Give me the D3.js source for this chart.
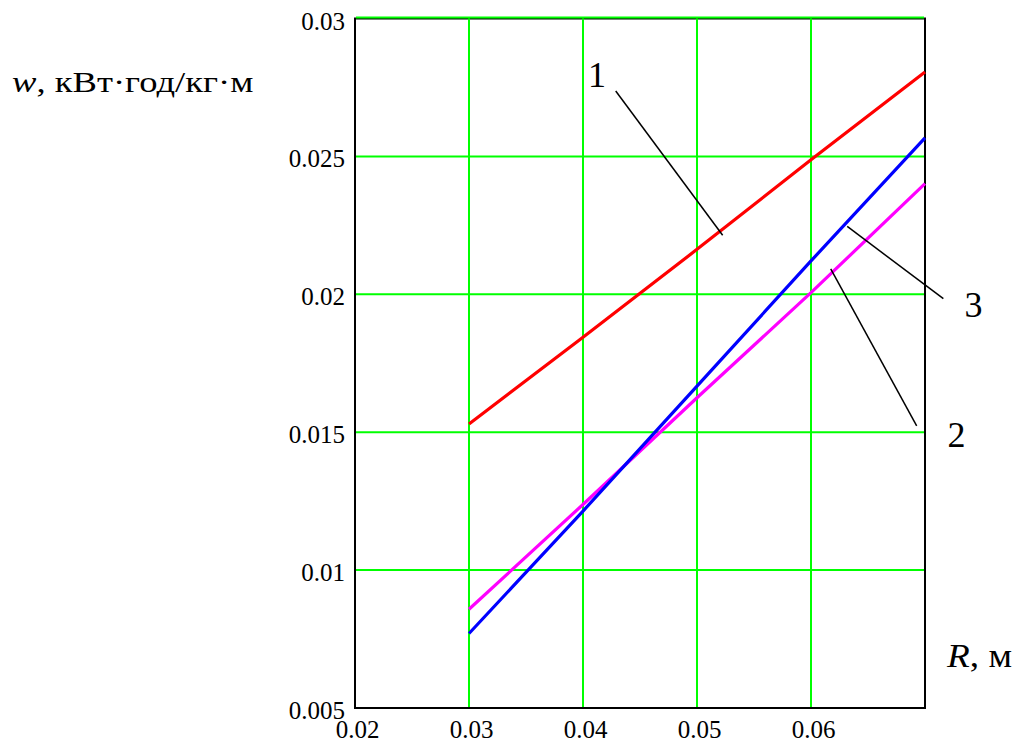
<!DOCTYPE html>
<html>
<head>
<meta charset="utf-8">
<script src="https://cdn.jsdelivr.net/npm/d3@7"></script>
<style>
  body { margin: 0; background: #fff; }
  svg text { font-family: "Liberation Serif", "Times New Roman", serif !important; fill: #000; }
</style>
</head>
<body>
<svg id="chart" width="1016" height="743"></svg>
<script>
// R, m
const radius = [0.03, 0.04, 0.05, 0.06, 0.07];
// w, kWh/kg·m
const curve1 = [0.0153, 0.01844, 0.02163, 0.02488, 0.02806];
const curve2 = [0.00858, 0.01238, 0.01625, 0.02006, 0.02401];
const curve3 = [0.0077, 0.01214, 0.01667, 0.02121, 0.02567];

const xTicks = [0.02, 0.03, 0.04, 0.05, 0.06];
const xTickLabels = ["0.02", "0.03", "0.04", "0.05", "0.06"];
const yTicks = [0.005, 0.01, 0.015, 0.02, 0.025, 0.03];
const yTickLabels = ["0.005", "0.01", "0.015", "0.02", "0.025", "0.03"];

// leader lines and numbers, in data units
const labelNames = ["1", "2", "3"];
const labelPos = [[0.04123, 0.02751], [0.07276, 0.01447], [0.07425, 0.01918]];
const leaderFrom = [[0.04287, 0.02737], [0.06927, 0.01523], [0.07161, 0.01984]];
const leaderTo = [[0.05225, 0.02214], [0.06173, 0.02092], [0.06318, 0.02246]];

const svg = d3.select("#chart");

const x = d3.scaleLinear().domain([0.02, 0.07]).range([355, 925]);
const y = d3.scaleLinear().domain([0.005, 0.03]).range([708, 18.5]);

// frame
svg.append("rect")
  .attr("x", x(0.02))
  .attr("y", y(0.03))
  .attr("width", x(0.07) - x(0.02))
  .attr("height", y(0.005) - y(0.03))
  .attr("fill", "none")
  .attr("stroke", "#000")
  .attr("stroke-width", 2);

// grid
const grid = svg.append("g").attr("stroke", "#00ff00").attr("stroke-width", 2);
grid.selectAll(".vg")
  .data(xTicks.slice(1))
  .join("line")
  .attr("x1", d => x(d)).attr("x2", d => x(d))
  .attr("y1", y(0.005) - 1).attr("y2", y(0.03));
grid.selectAll(".hg")
  .data(yTicks.slice(1))
  .join("line")
  .attr("x1", x(0.02) + 1).attr("x2", x(0.07) - 1)
  .attr("y1", d => y(d) - (d === 0.03 ? 1 : 0))
  .attr("y2", d => y(d) - (d === 0.03 ? 1 : 0));

// axes
const xAxis = d3.axisBottom(x)
  .tickValues(xTicks)
  .tickFormat((d, i) => xTickLabels[i])
  .tickSize(0)
  .tickPadding(12);
const gx = svg.append("g")
  .attr("transform", `translate(2,${y(0.005)})`)
  .call(xAxis);
gx.select(".domain").remove();
gx.selectAll("text").attr("font-size", 25);

const yAxis = d3.axisLeft(y)
  .tickValues(yTicks)
  .tickFormat((d, i) => yTickLabels[i])
  .tickSize(0)
  .tickPadding(10);
const gy = svg.append("g")
  .attr("transform", `translate(${x(0.02)},0)`)
  .call(yAxis);
gy.select(".domain").remove();
gy.selectAll("text").attr("font-size", 25).attr("dy", "0.42em");

// curves
const line = d3.line().x(d => x(d[0])).y(d => y(d[1]));
const series = [
  { values: curve1, color: "#ff0000" },
  { values: curve2, color: "#ff00ff" },
  { values: curve3, color: "#0000ff" }
];
svg.selectAll(".curve")
  .data(series)
  .join("path")
  .attr("class", "curve")
  .attr("d", s => line(radius.map((r, i) => [r, s.values[i]])))
  .attr("fill", "none")
  .attr("stroke", s => s.color)
  .attr("stroke-width", 3.2);

// leaders
svg.selectAll(".leader")
  .data(leaderFrom)
  .join("line")
  .attr("class", "leader")
  .attr("x1", d => x(d[0])).attr("y1", d => y(d[1]))
  .attr("x2", (d, i) => x(leaderTo[i][0])).attr("y2", (d, i) => y(leaderTo[i][1]))
  .attr("stroke", "#000")
  .attr("stroke-width", 1.5);

svg.selectAll(".num")
  .data(labelNames)
  .join("text")
  .attr("class", "num")
  .attr("x", (d, i) => x(labelPos[i][0]))
  .attr("y", (d, i) => y(labelPos[i][1]))
  .attr("text-anchor", "middle")
  .attr("font-size", 36)
  .text(d => d);

// axis titles (reference text is stretched horizontally)
const yTitle = svg.append("text")
  .attr("transform", "translate(12,92) scale(1.22,1)")
  .attr("font-size", 30);
yTitle.append("tspan").attr("font-style", "italic").text("w");
yTitle.append("tspan").text(", кВт·год/кг·м");

const xTitle = svg.append("text")
  .attr("transform", "translate(947,667) scale(1.13,1)")
  .attr("font-size", 33);
xTitle.append("tspan").attr("font-style", "italic").text("R");
xTitle.append("tspan").text(", м");
</script>
</body>
</html>
